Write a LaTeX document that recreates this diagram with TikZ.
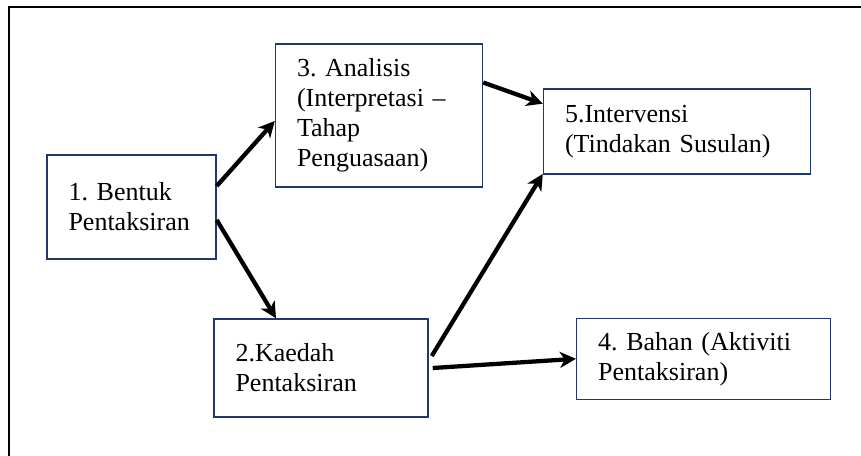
\documentclass[tikz,border=0pt]{standalone}
\usepackage{fontspec}
\setmainfont{Liberation Serif}
\usetikzlibrary{arrows.meta,calc}
\definecolor{boxblue}{RGB}{31,56,110}
\tikzset{
    stepbox/.style={draw=boxblue,line width=1.1pt,rectangle,align=left,inner xsep=15pt,
        font=\fontsize{19.5}{22.5}\selectfont\frenchspacing},
    flow/.style={draw,line width=3.2pt,-{Stealth[length=12pt,width=12pt,inset=3.5pt]}}
}
\begin{document}
\begin{tikzpicture}[x=0.75pt,y=-0.75pt]
\useasboundingbox (0,0) rectangle (861,455);
\clip (0,0) rectangle (861,455);
\draw[line width=1.6pt] (9,7) rectangle (900,500);

\node[stepbox,minimum width=169*0.75pt,minimum height=104*0.75pt,text width=126*0.75pt] at (131.5,207)(bentuk){1. Bentuk\\Pentaksiran};
\node[stepbox,minimum width=207*0.75pt,minimum height=143*0.75pt,text width=164*0.75pt] at (379,115.5)(analisis){3. Analisis\\(Interpretasi –\\Tahap\\Penguasaan)};
\node[stepbox,minimum width=267*0.75pt,minimum height=85*0.75pt,text width=224*0.75pt] at (677,131.7)(intervensi){5.Intervensi\\(Tindakan Susulan)};
\node[stepbox,minimum width=214*0.75pt,minimum height=98*0.75pt,text width=171*0.75pt] at (321,368)(kaedah){2.Kaedah\\Pentaksiran};
\node[stepbox,minimum width=254*0.75pt,minimum height=81*0.75pt,text width=211*0.75pt] at (703.7,358.8)(bahan){4. Bahan (Aktiviti\\Pentaksiran)};

\path[flow] ($(bentuk.east)+(0,-21)$) -- ($(analisis.west)+(0,5.5)$);
\path[flow] ($(bentuk.east)+(0,13)$) -- ($(kaedah.north)+(-45,0)$);
\path[flow] ($(analisis.east)+(0,-33)$) -- ($(intervensi.west)+(0,-28)$);
\path[flow] ($(kaedah.east)+(3,-12)$) -- ($(intervensi.south west)+(0,-1)$);
\path[flow] ($(kaedah.east)+(4,0)$) -- (bahan.west);
\end{tikzpicture}
\end{document}
